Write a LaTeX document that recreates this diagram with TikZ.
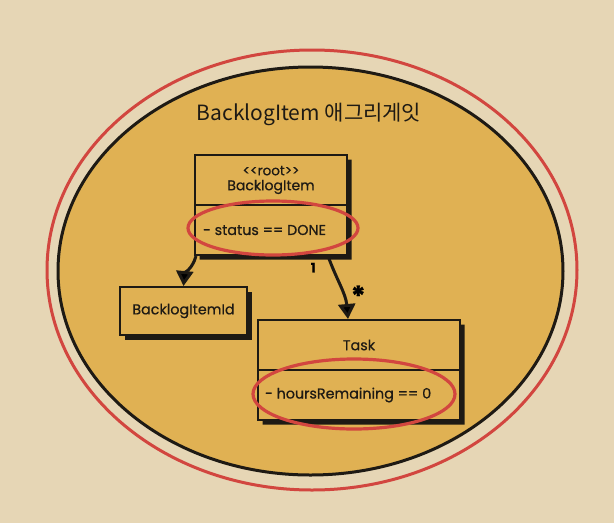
\documentclass[tikz,border=0pt]{standalone}
\usepackage{fontspec}
\setmainfont{Poppins}[FakeBold=0.6]
\newfontfamily\krfont{Noto Sans CJK KR}
\usetikzlibrary{positioning,shapes.geometric,shapes.multipart,arrows.meta,shadows}

\definecolor{paper}{HTML}{E6D6B5}
\definecolor{aggfill}{HTML}{E0B153}
\definecolor{ringred}{HTML}{D2463F}
\definecolor{ink}{HTML}{1E1A14}

% compartment of fixed size: width, height, content
\newcommand\compart[3]{\parbox[c][#2][c]{#1}{#3}}

\tikzset{
    umlbox/.style={draw=ink, line width=2pt, fill=aggfill, inner sep=0pt, text=ink,
        font=\fontsize{14.3}{16}\selectfont,
        drop shadow={fill=ink, opacity=1, shadow xshift=4.5pt, shadow yshift=-4.5pt}},
    splitbox/.style={umlbox, rectangle split, rectangle split parts=2},
    ring/.style={ellipse, draw=ringred, line width=3.2pt, inner sep=0pt},
    link/.style={draw=ink, line width=3pt, -{Triangle[length=15pt,width=17pt]}}
}

\begin{document}
\begin{tikzpicture}[x=1pt, y=-1pt]

    % Parameters
    \def\W{614} % width of page in px
    \def\H{523} % height of page in px
    \def\boxH{48pt} % height of one compartment

    % Paper
    \fill[paper] (0,0) rectangle (\W,\H);
    \useasboundingbox (0,0) rectangle (\W,\H);

    % Aggregate boundary
    \node[ring, line width=3pt, minimum width=530pt, minimum height=440pt] (outer) at (312,270) {};
    \node[ellipse, draw=ink, fill=aggfill, line width=3pt, minimum width=505pt, minimum height=408pt] (aggregate) at (310.5,271) {};

    % Title
    \node[font={\krfont\fontsize{21}{25}\selectfont}, text=ink] (title) at (309,114) {BacklogItem 애그리게잇};

    % Root entity
    \node[splitbox, anchor=north] (bi) at (271,154)
        {\compart{152pt}{\boxH}{\centering\fontsize{13.5}{14}\selectfont{<}{<}root{>}{>}\\ \fontsize{14}{15}\selectfont BacklogItem}
         \nodepart{two}\compart{152pt}{\boxH}{\hspace*{8pt}- status == DONE}};

    % Value object
    \node[umlbox, minimum width=127pt, minimum height=\boxH] (bli) at (183.5,311) {BacklogItemId};

    % Task entity
    \node[splitbox, anchor=north] (task) at (359,319)
        {\compart{202pt}{\boxH}{\centering Task}
         \nodepart{two}\compart{202pt}{\boxH}{\hspace*{7pt}- hoursRemaining == 0}};

    % Associations
    \draw[link] ([xshift=2pt]bi.south west) to[out=-105, in=85] (bli.north);
    \draw[link] ([xshift=-20pt]bi.south east) to[out=-70, in=95]
        node[pos=0.17, left=12pt, font=\fontsize{13}{14}\selectfont\bfseries] {1}
        node[pos=0.62, right=3pt, yshift=-2pt, font=\fontsize{28}{28}\selectfont\bfseries] {*}
        ([xshift=-11pt]task.north);

    % Invariants marked in red
    \node[ring, minimum width=170pt, minimum height=54pt] (done-ring) at ([xshift=2pt, yshift=-23pt]bi.center) {};
    \node[ring, minimum width=202pt, minimum height=70pt] (hours-ring) at ([xshift=-5pt, yshift=-24pt]task.center) {};

\end{tikzpicture}
\end{document}
